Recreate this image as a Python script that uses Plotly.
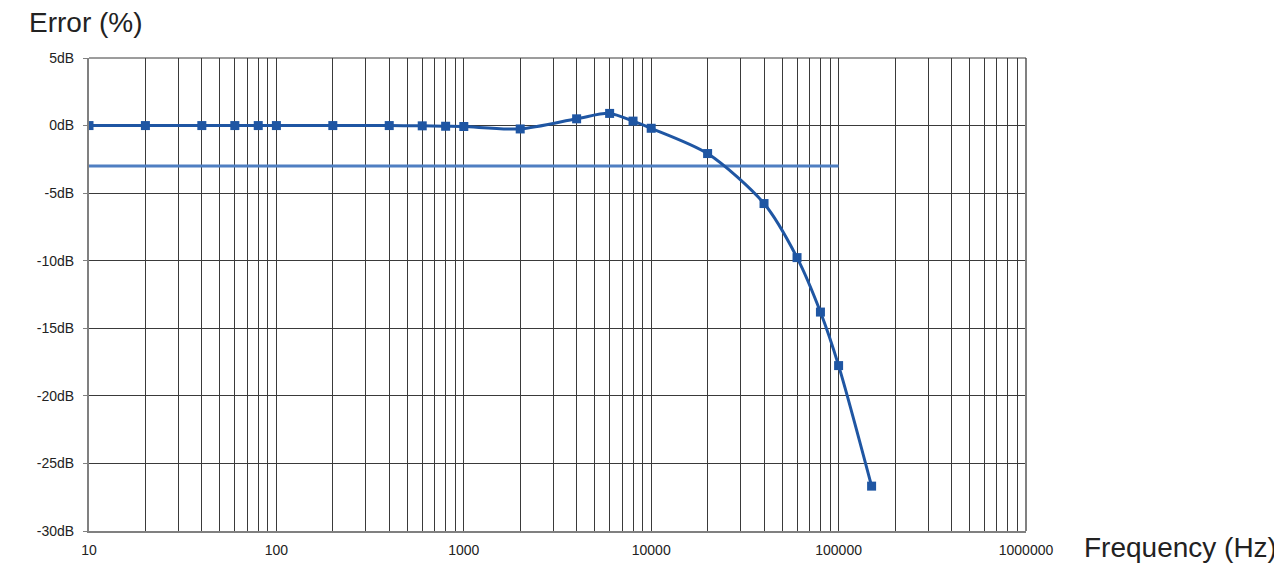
import plotly.graph_objects as go

freq_hz = [10, 20, 40, 60, 80, 100, 200, 400, 600, 800, 1000, 2000, 4000, 6000, 8000,
           10000, 20000, 40000, 60000, 80000, 100000, 150000]
error_db = [0.0, 0.0, 0.0, 0.0, 0.0, 0.0, 0.0, 0.0, -0.02, -0.05, -0.07, -0.25, 0.5, 0.9, 0.33,
            -0.2, -2.07, -5.77, -9.77, -13.8, -17.76, -26.68]
ref_freq = [10, 100000]
ref_db = [-3, -3]

y_ticks = [5, 0, -5, -10, -15, -20, -25, -30]
y_labels = ["5dB", "0dB", "-5dB", "-10dB", "-15dB", "-20dB", "-25dB", "-30dB"]
decades = [10, 100, 1000, 10000, 100000, 1000000]

x_tickvals = []
x_ticktext = []
for d in decades:
    for m in range(1, 10):
        v = d * m
        if v > 1000000:
            break
        x_tickvals.append(v)
        x_ticktext.append(str(v) if m == 1 else "")

fig = go.Figure()
fig.add_trace(go.Scatter(x=ref_freq, y=ref_db, mode="lines",
                         line=dict(color="#4f7fc2", width=3), hoverinfo="skip"))
fig.add_trace(go.Scatter(x=freq_hz, y=error_db, mode="lines+markers",
                         line=dict(color="#1f56a3", width=3, shape="spline", smoothing=0.8),
                         marker=dict(symbol="square", size=9, color="#1f56a3")))

# page body has an 8px margin, so the figure is sized/offset to compensate
fig.update_layout(
    width=1274, height=570,
    margin=dict(l=81, r=256, t=50, b=47),
    paper_bgcolor="white", plot_bgcolor="white",
    showlegend=False,
    font=dict(family="Arial, Liberation Sans, sans-serif", color="#222"),
    xaxis=dict(type="log", range=[1, 6], tickvals=x_tickvals, ticktext=x_ticktext,
               showgrid=True, gridcolor="#3a3a3a", gridwidth=1,
               showline=True, linecolor="#808080", linewidth=2, mirror=False,
               ticks="outside", ticklen=5, tickcolor="rgba(0,0,0,0)",
               tickfont=dict(size=14, color="#222"),
               zeroline=False),
    yaxis=dict(range=[-30, 5], tickvals=y_ticks, ticktext=y_labels,
               showgrid=True, gridcolor="#3a3a3a", gridwidth=1,
               showline=True, linecolor="#808080", linewidth=2,
               ticks="outside", ticklen=4, tickcolor="#808080",
               ticklabelstandoff=6,
               tickfont=dict(size=14, color="#222"), zeroline=False),
    shapes=[dict(type="line", xref="paper", yref="paper", x0=1, x1=1, y0=0, y1=1,
                 line=dict(color="#808080", width=2)),
            dict(type="line", xref="paper", yref="paper", x0=0, x1=1, y0=1, y1=1,
                 line=dict(color="#3a3a3a", width=1))],
    annotations=[
        dict(text="Error (%)", xref="paper", yref="paper", x=0, y=1.0,
             xanchor="left", yanchor="middle", xshift=-62, yshift=36, showarrow=False,
             font=dict(size=28, color="#222")),
        dict(text="Frequency (Hz)", xref="paper", yref="paper", x=1.0, y=0,
             xanchor="left", yanchor="middle", xshift=56, yshift=-16, showarrow=False,
             font=dict(size=28, color="#222")),
    ],
)

fig.write_html("out.html")
